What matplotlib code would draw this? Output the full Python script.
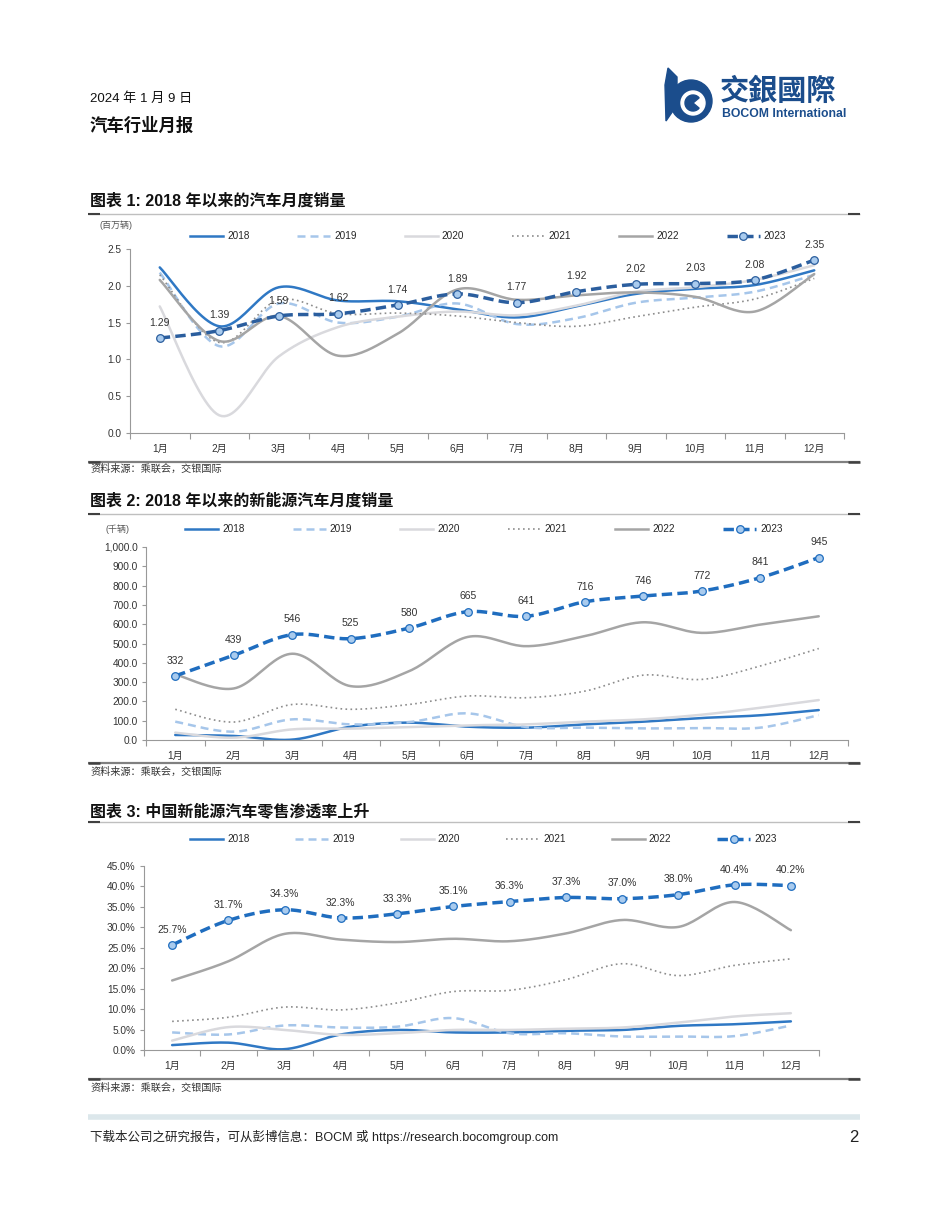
import numpy as np
import matplotlib
matplotlib.use("Agg")
import matplotlib.pyplot as plt
from matplotlib.lines import Line2D
from matplotlib.patches import Circle, Wedge, Polygon

plt.rcParams['font.family'] = ['Liberation Sans', 'Noto Sans CJK SC', 'DejaVu Sans']

months = ["1月", "2月", "3月", "4月", "5月", "6月", "7月", "8月", "9月", "10月", "11月", "12月"]
years = ["2018", "2019", "2020", "2021", "2022", "2023"]

# chart 1: monthly vehicle sales (million units)
sales = {
    "2018": [2.25, 1.45, 1.98, 1.80, 1.79, 1.68, 1.57, 1.72, 1.89, 1.96, 2.01, 2.21],
    "2019": [2.18, 1.18, 1.76, 1.50, 1.58, 1.76, 1.48, 1.56, 1.77, 1.84, 1.92, 2.15],
    "2020": [1.72, 0.24, 1.04, 1.44, 1.58, 1.65, 1.60, 1.73, 1.92, 1.98, 2.08, 2.28],
    "2021": [2.15, 1.23, 1.81, 1.62, 1.63, 1.59, 1.50, 1.45, 1.58, 1.71, 1.82, 2.10],
    "2022": [2.08, 1.25, 1.59, 1.05, 1.35, 1.95, 1.81, 1.87, 1.91, 1.85, 1.65, 2.16],
    "2023": [1.29, 1.39, 1.59, 1.62, 1.74, 1.89, 1.77, 1.92, 2.02, 2.03, 2.08, 2.35],
}

# chart 2: monthly NEV sales (thousand units)
nev = {
    "2018": [26, 21, 2, 69, 90, 69, 64, 81, 95, 114, 128, 155],
    "2019": [95, 43, 107, 81, 93, 138, 67, 64, 60, 62, 64, 129],
    "2020": [38, 12, 55, 59, 67, 76, 81, 95, 107, 131, 167, 207],
    "2021": [159, 93, 184, 159, 184, 228, 219, 253, 336, 314, 383, 474],
    "2022": [340, 267, 447, 279, 357, 534, 486, 538, 610, 555, 598, 641],
    "2023": [332, 439, 546, 525, 580, 665, 641, 716, 746, 772, 841, 945],
}

# chart 3: NEV retail penetration (%)
pen = {
    "2018": [1.2, 1.8, 0.2, 3.8, 4.9, 4.3, 4.3, 4.7, 4.9, 5.9, 6.3, 7.0],
    "2019": [4.3, 3.8, 6.0, 5.5, 5.7, 7.8, 4.1, 4.1, 3.3, 3.3, 3.4, 6.0],
    "2020": [2.3, 5.6, 4.9, 3.7, 4.1, 4.9, 4.9, 5.2, 5.5, 6.7, 8.2, 9.0],
    "2021": [7.0, 8.0, 10.5, 9.8, 11.5, 14.3, 14.6, 17.2, 21.1, 18.2, 20.7, 22.3],
    "2022": [17.0, 21.7, 28.4, 27.0, 26.4, 27.2, 26.6, 28.5, 31.8, 30.1, 36.2, 29.3],
    "2023": [25.7, 31.7, 34.3, 32.3, 33.3, 35.1, 36.3, 37.3, 37.0, 38.0, 40.4, 40.2],
}

W, H = 950, 1230
fig = plt.figure(figsize=(W / 100, H / 100), dpi=100)


def fx(x):
    return x / W


def fy(y):
    return 1 - y / H


def hline(x0, x1, y, color, lw):
    fig.add_artist(Line2D([fx(x0), fx(x1)], [fy(y), fy(y)], transform=fig.transFigure,
                          color=color, lw=lw, solid_capstyle='butt'))


def smooth(y, n=24):
    # bezier smoothing like the spreadsheet "smoothed line"
    p = np.column_stack([np.arange(len(y)), np.asarray(y, float)])
    out = []
    for i in range(len(p) - 1):
        p0, p1, p2, p3 = p[max(i - 1, 0)], p[i], p[i + 1], p[min(i + 2, len(p) - 1)]
        c1 = p1 + (p2 - p0) / 6
        c2 = p2 - (p3 - p1) / 6
        t = np.linspace(0, 1, n)[:, None]
        seg = (1 - t) ** 3 * p1 + 3 * (1 - t) ** 2 * t * c1 + 3 * (1 - t) * t ** 2 * c2 + t ** 3 * p2
        out.append(seg if i == 0 else seg[1:])
    return np.vstack(out)


def styles(c23):
    return {
        "2018": dict(color="#2F78C4", lw=1.8, ls="-"),
        "2019": dict(color="#A6C6EA", lw=1.8, ls=(0, (3.2, 2.0))),
        "2020": dict(color="#D9D9DD", lw=1.8, ls="-"),
        "2021": dict(color="#8C8C8C", lw=1.2, ls=(0, (1.0, 2.0))),
        "2022": dict(color="#A5A5A5", lw=1.8, ls="-"),
        "2023": dict(color=c23, lw=2.5, ls=(0, (3.0, 1.5))),
    }


MFACE = "#A9CBEE"


def draw_legend(sty, x_start, step, y):
    for i, yr in enumerate(years):
        x0 = x_start + i * step
        x1 = x0 + 33
        s = sty[yr]
        fig.add_artist(Line2D([fx(x0), fx(x1)], [fy(y), fy(y)], transform=fig.transFigure,
                              color=s["color"], lw=s["lw"], ls=s["ls"], dash_capstyle='butt'))
        if yr == "2023":
            fig.add_artist(Line2D([fx((x0 + x1) / 2)], [fy(y)], transform=fig.transFigure,
                                  marker='o', ms=5.5, mfc=MFACE, mec=s["color"], mew=0.9, ls='none'))
        fig.text(fx(x1 + 4), fy(y), yr, fontsize=7.2, color="#262626", va='center', ha='left')


def draw_chart(box, data, ylim, yticks, fmt, sty, label_fmt):
    l, t, r, b = box
    ax = fig.add_axes([fx(l), fy(b), fx(r) - fx(l), fy(t) - fy(b)])
    x = np.arange(12)
    for yr in years:
        s = sty[yr]
        c = smooth(data[yr])
        ax.plot(c[:, 0], c[:, 1], color=s["color"], lw=s["lw"], ls=s["ls"],
                dash_capstyle='butt', solid_capstyle='round')
    s = sty["2023"]
    ax.plot(x, data["2023"], 'o', ms=5.5, mfc=MFACE, mec=s["color"], mew=0.9, zorder=5)
    for xi, v in zip(x, data["2023"]):
        ax.annotate(label_fmt(v), (xi, v), xytext=(0, 11), textcoords='offset points',
                    ha='center', va='center', fontsize=7.5, color="#333333", zorder=6)
    ax.set_xlim(-0.5, 11.5)
    ax.set_ylim(*ylim)
    ax.set_yticks(yticks)
    ax.set_yticklabels([fmt(v) for v in yticks])
    ax.set_xticks(x)
    ax.set_xticklabels(months)
    ax.set_xticks(np.arange(-0.5, 12, 1), minor=True)
    ax.tick_params(axis='x', which='major', length=0, pad=8, labelsize=7.3, labelcolor="#333333")
    ax.tick_params(axis='x', which='minor', length=4, width=0.8, color="#999999")
    ax.tick_params(axis='y', length=3, width=0.8, color="#999999", labelsize=7.3,
                   labelcolor="#333333", pad=3)
    for sp in ["top", "right"]:
        ax.spines[sp].set_visible(False)
    for sp in ["left", "bottom"]:
        ax.spines[sp].set_color("#999999")
        ax.spines[sp].set_linewidth(0.8)
    ax.patch.set_alpha(0)
    return ax


def section(title, y_title, y_rule, y_bottom, y_src):
    fig.text(fx(90), fy(y_title), title, fontsize=11.5, fontweight='bold', color="#111111",
             va='center', ha='left')
    hline(88, 860, y_rule, "#BFBFBF", 1.0)
    hline(88, 100, y_rule, "#404040", 1.5)
    hline(848, 860, y_rule, "#404040", 1.5)
    hline(88, 860, y_bottom, "#808080", 1.6)
    hline(88, 100, y_bottom, "#404040", 1.8)
    hline(848, 860, y_bottom, "#404040", 1.8)
    fig.text(fx(90), fy(y_src), "资料来源：乘联会，交银国际", fontsize=7.3, color="#333333",
             va='center', ha='left', style='italic')


# header
fig.text(fx(90), fy(99), "2024 年 1 月 9 日", fontsize=9.5, color="#111111", va='center')
fig.text(fx(90), fy(125), "汽车行业月报", fontsize=12.5, fontweight='bold', color="#111111", va='center')

# logo
blue = "#1B4D8C"
logo = fig.add_axes([fx(660), fy(125), fx(55), fy(0) - fy(60)])
logo.set_xlim(0, 55)
logo.set_ylim(60, 0)
logo.axis('off')
logo.add_patch(Polygon([[8, 3], [17, 12], [17, 40], [6, 56], [5, 20]], closed=True, color=blue))
logo.add_patch(Circle((31, 36), 21, color=blue))
logo.add_patch(Circle((33, 38), 12, color="white"))
logo.add_patch(Wedge((33, 38), 8, 40, 320, color=blue))
fig.text(fx(720), fy(91), "交銀國際", fontsize=21, fontweight='bold', color=blue,
         va='center', ha='left', family=['Noto Sans CJK TC', 'DejaVu Sans'])
fig.text(fx(722), fy(114), "BOCOM International", fontsize=8.8, fontweight='bold', color=blue,
         va='center', ha='left')

# chart 1
section("图表 1: 2018 年以来的汽车月度销量", 201, 214, 462, 469)
sty1 = styles("#2B5E9E")
fig.text(fx(100), fy(225), "(百万辆)", fontsize=6.5, color="#555555", va='center')
draw_legend(sty1, 190, 107.3, 236)
draw_chart((130, 249, 844, 433), sales, (0, 2.5), np.arange(0, 2.51, 0.5),
           lambda v: f"{v:.1f}", sty1, lambda v: f"{v:.2f}")

# chart 2
section("图表 2: 2018 年以来的新能源汽车月度销量", 501, 514, 763, 772)
sty2 = styles("#1F6DBF")
fig.text(fx(106), fy(529), "(千辆)", fontsize=6.5, color="#555555", va='center')
draw_legend(sty2, 185, 107.6, 529)
draw_chart((146, 547, 848, 740), nev, (0, 1000), np.arange(0, 1001, 100),
           lambda v: f"{v:,.1f}", sty2, lambda v: f"{v:.0f}")

# chart 3
section("图表 3: 中国新能源汽车零售渗透率上升", 811, 822, 1079, 1088)
sty3 = styles("#1F6DBF")
draw_legend(sty3, 190, 105.4, 839)
draw_chart((144, 866, 819, 1050), pen, (0, 45), np.arange(0, 45.1, 5),
           lambda v: f"{v:.1f}%", sty3, lambda v: f"{v:.1f}%")

# footer
hline(88, 860, 1117, "#DCE7EB", 4)
fig.text(fx(90), fy(1137), "下载本公司之研究报告，可从彭博信息：BOCM 或 https://research.bocomgroup.com",
         fontsize=9, color="#222222", va='center', ha='left')
fig.text(fx(858), fy(1137), "2", fontsize=12, color="#222222", va='center', ha='right')

fig.savefig("out.png", dpi=100)
